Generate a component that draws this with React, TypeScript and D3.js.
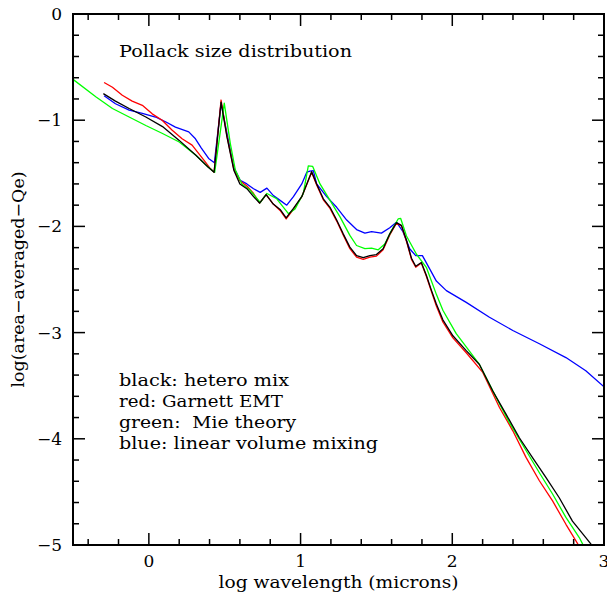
import React, { useEffect, useRef } from "react";
import * as d3 from "d3";

// log wavelength (microns) vs log(area-averaged Qe)
const black: [number, number][] = [
  [-0.30, -0.75], [-0.22, -0.82], [-0.13, -0.89], [-0.02, -0.97], [0.09, -1.06], [0.20, -1.19],
  [0.31, -1.33], [0.39, -1.44], [0.43, -1.49], [0.476, -0.83], [0.515, -1.16], [0.56, -1.47],
  [0.60, -1.60], [0.646, -1.645], [0.69, -1.72], [0.73, -1.78], [0.773, -1.70], [0.82, -1.79],
  [0.865, -1.84], [0.905, -1.92], [0.953, -1.83], [1.008, -1.72], [1.073, -1.485], [1.106, -1.60],
  [1.15, -1.74], [1.194, -1.82], [1.238, -1.94], [1.281, -2.07], [1.325, -2.195], [1.369, -2.275],
  [1.413, -2.295], [1.457, -2.275], [1.50, -2.265], [1.544, -2.21], [1.588, -2.07], [1.632, -1.965],
  [1.665, -1.99], [1.698, -2.13], [1.731, -2.30], [1.759, -2.375], [1.796, -2.34], [1.829, -2.46],
  [1.862, -2.60], [1.895, -2.73], [1.938, -2.88], [2.004, -3.03], [2.092, -3.17], [2.179, -3.30],
  [2.267, -3.55], [2.355, -3.77], [2.442, -3.99], [2.53, -4.18], [2.618, -4.365], [2.705, -4.555],
  [2.792, -4.775], [2.88, -4.93], [2.93, -5.02],
];

const red: [number, number][] = [
  [-0.295, -0.645], [-0.24, -0.69], [-0.175, -0.765], [-0.11, -0.82], [-0.043, -0.86], [0.022, -0.94],
  [0.088, -1.0], [0.154, -1.095], [0.219, -1.175], [0.285, -1.235], [0.329, -1.315], [0.373, -1.395],
  [0.405, -1.455], [0.43, -1.49], [0.476, -0.81], [0.515, -1.15], [0.56, -1.46], [0.60, -1.57],
  [0.646, -1.62], [0.69, -1.69], [0.73, -1.78], [0.773, -1.70], [0.82, -1.79], [0.865, -1.85],
  [0.905, -1.93], [0.953, -1.84], [1.008, -1.72], [1.073, -1.49], [1.106, -1.61], [1.15, -1.75],
  [1.194, -1.83], [1.238, -1.95], [1.281, -2.08], [1.325, -2.21], [1.369, -2.29], [1.413, -2.31],
  [1.457, -2.29], [1.50, -2.28], [1.544, -2.22], [1.588, -2.08], [1.632, -1.97], [1.665, -1.995],
  [1.698, -2.14], [1.731, -2.31], [1.759, -2.385], [1.796, -2.345], [1.829, -2.47], [1.862, -2.61],
  [1.895, -2.75], [1.938, -2.90], [2.004, -3.05], [2.092, -3.19], [2.201, -3.375], [2.311, -3.705],
  [2.399, -3.925], [2.486, -4.175], [2.574, -4.395], [2.661, -4.585], [2.749, -4.805], [2.84, -5.02],
];

const green: [number, number][] = [
  [-0.5, -0.615], [-0.35, -0.78], [-0.24, -0.89], [-0.13, -0.97], [-0.02, -1.05], [0.09, -1.125],
  [0.20, -1.205], [0.31, -1.33], [0.39, -1.44], [0.434, -1.49], [0.497, -0.84], [0.537, -1.22],
  [0.57, -1.47], [0.613, -1.60], [0.668, -1.66], [0.734, -1.775], [0.778, -1.69], [0.843, -1.74],
  [0.92, -1.88], [0.964, -1.835], [1.018, -1.69], [1.051, -1.43], [1.08, -1.435], [1.128, -1.60],
  [1.194, -1.755], [1.26, -1.91], [1.325, -2.085], [1.369, -2.18], [1.424, -2.21], [1.468, -2.205],
  [1.512, -2.22], [1.555, -2.165], [1.599, -2.04], [1.643, -1.93], [1.66, -1.925], [1.698, -2.09],
  [1.763, -2.26], [1.829, -2.385], [1.895, -2.64], [1.938, -2.79], [2.026, -3.01], [2.179, -3.30],
  [2.289, -3.61], [2.376, -3.845], [2.486, -4.11], [2.574, -4.32], [2.661, -4.52], [2.749, -4.74],
  [2.837, -4.93], [2.87, -5.02],
];

const blue: [number, number][] = [
  [-0.295, -0.77], [-0.22, -0.845], [-0.13, -0.905], [-0.043, -0.935], [0.044, -0.97], [0.11, -1.015],
  [0.175, -1.065], [0.263, -1.11], [0.307, -1.175], [0.345, -1.26], [0.394, -1.36], [0.432, -1.40],
  [0.476, -0.84], [0.515, -1.125], [0.559, -1.44], [0.602, -1.565], [0.646, -1.60], [0.69, -1.645],
  [0.734, -1.68], [0.778, -1.64], [0.821, -1.71], [0.865, -1.755], [0.909, -1.80], [0.953, -1.72],
  [1.008, -1.60], [1.041, -1.49], [1.062, -1.48], [1.084, -1.475], [1.106, -1.60], [1.172, -1.72],
  [1.238, -1.82], [1.304, -1.94], [1.369, -2.03], [1.424, -2.063], [1.468, -2.05], [1.533, -2.063],
  [1.588, -2.012], [1.632, -1.96], [1.675, -2.05], [1.719, -2.21], [1.759, -2.275], [1.803, -2.275],
  [1.851, -2.40], [1.895, -2.515], [1.961, -2.605], [2.092, -2.715], [2.245, -2.855], [2.399, -2.98],
  [2.574, -3.105], [2.749, -3.235], [2.88, -3.36], [3.0, -3.51],
];

const xTickLabels = ["0", "1", "2", "3"];
const yTickLabels = ["0", "\u22121", "\u22122", "\u22123", "\u22124", "\u22125"];
const legendLines = ["black: hetero mix", "red: Garnett EMT", "green:  Mie theory", "blue: linear volume mixing"];

const W = 607;
const H = 596;
const FONT = "'DejaVu Serif', serif";

export default function App() {
  const svgRef = useRef<SVGSVGElement>(null);

  useEffect(() => {
    const svg = d3.select(svgRef.current);
    svg.selectAll("*").remove();

    const left = 73, right = 604, top = 14, bottom = 545;
    const x = d3.scaleLinear().domain([-0.5, 3]).range([left, right]);
    const y = d3.scaleLinear().domain([-5, 0]).range([bottom, top]);

    svg.append("rect").attr("width", W).attr("height", H).attr("fill", "white");

    const defs = svg.append("defs");
    defs.append("clipPath").attr("id", "plotclip")
      .append("rect").attr("x", left).attr("y", top)
      .attr("width", right - left).attr("height", bottom - top);

    const line = d3.line<[number, number]>().x(d => x(d[0])).y(d => y(d[1]));
    const series: [[number, number][], string][] = [
      [blue, "#0000ff"], [red, "#ff0000"], [green, "#00ff00"], [black, "#000000"],
    ];
    const g = svg.append("g").attr("clip-path", "url(#plotclip)");
    series.forEach(([data, col]) => {
      g.append("path")
        .attr("d", line(data))
        .attr("fill", "none")
        .attr("stroke", col)
        .attr("stroke-width", 1.3)
        .attr("stroke-linejoin", "round");
    });

    // frame
    svg.append("rect")
      .attr("x", left).attr("y", top)
      .attr("width", right - left).attr("height", bottom - top)
      .attr("fill", "none").attr("stroke", "black").attr("stroke-width", 2);

    const ax = svg.append("g").attr("stroke", "black").attr("stroke-width", 1.5);
    // x ticks, minor every 0.2 and major every 1, on bottom and top
    d3.range(-0.4, 3.0001, 0.2).forEach(v => {
      const major = Math.abs(v - Math.round(v)) < 1e-6;
      const len = major ? 12 : 6;
      const px = x(v);
      ax.append("line").attr("x1", px).attr("x2", px).attr("y1", bottom).attr("y2", bottom - len);
      ax.append("line").attr("x1", px).attr("x2", px).attr("y1", top).attr("y2", top + len);
    });
    d3.range(-4.8, -0.0999, 0.2).forEach(v => {
      const major = Math.abs(v - Math.round(v)) < 1e-6;
      const len = major ? 12 : 6;
      const py = y(v);
      ax.append("line").attr("x1", left).attr("x2", left + len).attr("y1", py).attr("y2", py);
      ax.append("line").attr("x1", right).attr("x2", right - len).attr("y1", py).attr("y2", py);
    });

    const txt = svg.append("g").attr("font-family", FONT).attr("fill", "black");

    xTickLabels.forEach((t, i) => {
      txt.append("text").attr("x", x(i)).attr("y", 567)
        .attr("text-anchor", "middle").attr("font-size", 17).text(t);
    });
    yTickLabels.forEach((t, i) => {
      txt.append("text").attr("x", 62).attr("y", y(-i) + 6)
        .attr("text-anchor", "end").attr("font-size", 17).text(t);
    });

    txt.append("text").attr("x", (left + right) / 2).attr("y", 588)
      .attr("text-anchor", "middle").attr("font-size", 17)
      .attr("textLength", 240).attr("lengthAdjust", "spacingAndGlyphs")
      .text("log wavelength (microns)");

    txt.append("text")
      .attr("transform", `translate(24,${(top + bottom) / 2}) rotate(-90)`)
      .attr("text-anchor", "middle").attr("font-size", 17)
      .attr("textLength", 216).attr("lengthAdjust", "spacingAndGlyphs")
      .text("log(area\u2212averaged\u2212Qe)");

    txt.append("text").attr("x", 119).attr("y", 57).attr("font-size", 16)
      .attr("textLength", 233).attr("lengthAdjust", "spacingAndGlyphs")
      .text("Pollack size distribution");

    const legendW = [170, 164, 177, 259];
    legendLines.forEach((t, i) => {
      txt.append("text").attr("x", 119).attr("y", 386 + i * 21).attr("font-size", 16)
        .attr("textLength", legendW[i]).attr("lengthAdjust", "spacingAndGlyphs")
        .attr("xml:space", "preserve")
        .text(t);
    });
  }, []);

  return (
    <svg
      ref={svgRef}
      width={W}
      height={H}
      viewBox={`0 0 ${W} ${H}`}
      style={{ position: "absolute", left: 0, top: 0, display: "block" }}
    />
  );
}
